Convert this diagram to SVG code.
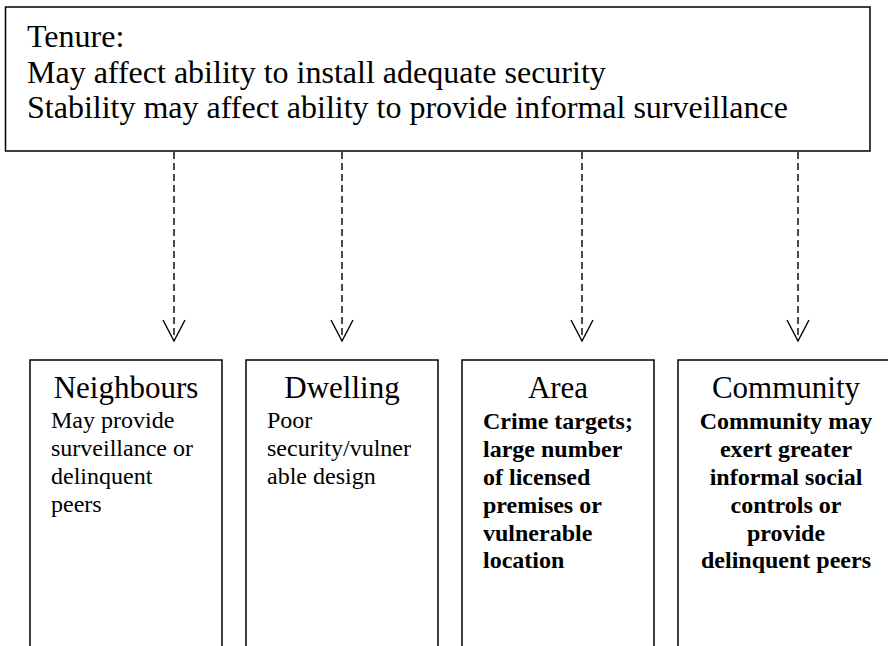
<svg xmlns="http://www.w3.org/2000/svg" width="888" height="646" viewBox="0 0 888 646">
<defs>
<style>
.box{fill:#fff;stroke:#000;stroke-width:1.5}
.t{font-family:"Liberation Serif","Times New Roman",serif;fill:#000}
.top{font-size:32px}
.title{font-size:31px;text-anchor:middle}
.body{font-size:24px}
.bold{font-weight:bold}
.mid{text-anchor:middle}
.conn{stroke:#000;stroke-width:1.4;fill:none}
.dash{stroke-dasharray:7 4}
</style>
</defs>
<rect width="888" height="646" fill="#fff"/>
<g id="tenure">
<rect class="box" x="5.5" y="7" width="864.5" height="144"/>
<text class="t top" x="27" y="47">Tenure:</text>
<text class="t top" x="27" y="83">May affect ability to install adequate security</text>
<text class="t top" x="27" y="118">Stability may affect ability to provide informal surveillance</text>
</g>
<g id="connectors">
<line class="conn dash" x1="174" y1="152" x2="174" y2="340"/>
<polyline class="conn" points="163,320 174,341 185,320"/>
<line class="conn dash" x1="342" y1="152" x2="342" y2="340"/>
<polyline class="conn" points="331,320 342,341 353,320"/>
<line class="conn dash" x1="582" y1="152" x2="582" y2="340"/>
<polyline class="conn" points="571,320 582,341 593,320"/>
<line class="conn dash" x1="798" y1="152" x2="798" y2="340"/>
<polyline class="conn" points="787,320 798,341 809,320"/>
</g>
<g id="neighbours">
<rect class="box" x="30" y="360" width="192" height="300"/>
<text class="t title" x="126" y="398">Neighbours</text>
<text class="t body" x="51" y="428">May provide</text>
<text class="t body" x="51" y="456">surveillance or</text>
<text class="t body" x="51" y="484">delinquent</text>
<text class="t body" x="51" y="512">peers</text>
</g>
<g id="dwelling">
<rect class="box" x="246" y="360" width="192" height="300"/>
<text class="t title" x="342" y="398">Dwelling</text>
<text class="t body" x="267" y="428">Poor</text>
<text class="t body" x="267" y="456">security/vulner</text>
<text class="t body" x="267" y="484">able design</text>
</g>
<g id="area">
<rect class="box" x="462" y="360" width="192" height="300"/>
<text class="t title" x="558" y="398">Area</text>
<text class="t body bold" x="483" y="429">Crime targets;</text>
<text class="t body bold" x="483" y="457">large number</text>
<text class="t body bold" x="483" y="485">of licensed</text>
<text class="t body bold" x="483" y="513">premises or</text>
<text class="t body bold" x="483" y="541">vulnerable</text>
<text class="t body bold" x="483" y="568">location</text>
</g>
<g id="community">
<rect class="box" x="678" y="360" width="216" height="300"/>
<text class="t title" x="786" y="398">Community</text>
<text class="t body bold mid" x="786" y="429">Community may</text>
<text class="t body bold mid" x="786" y="457">exert greater</text>
<text class="t body bold mid" x="786" y="485">informal social</text>
<text class="t body bold mid" x="786" y="513">controls or</text>
<text class="t body bold mid" x="786" y="541">provide</text>
<text class="t body bold mid" x="786" y="568">delinquent peers</text>
</g>
</svg>
